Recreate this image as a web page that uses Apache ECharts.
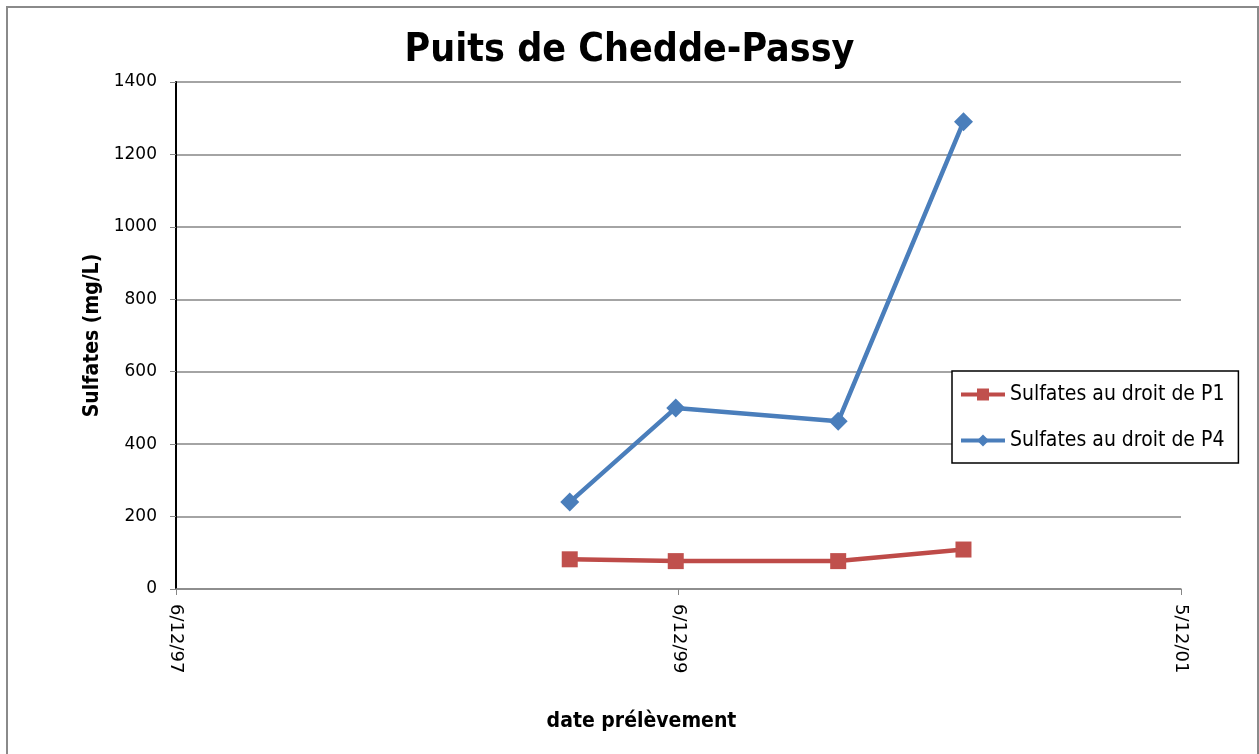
<!DOCTYPE html>
<html>
<head>
<meta charset="utf-8">
<script src="https://cdn.jsdelivr.net/npm/echarts@6/dist/echarts.min.js"></script>
<style>
  html, body { margin: 0; padding: 0; background: #fff; }
  #chart { width: 1259px; height: 754px; }
</style>
</head>
<body>
<div id="chart"></div>
<script>
// Sulfates aux puits de Chedde-Passy
const dates = ['1999-07-01', '1999-12-02', '2000-07-25', '2001-01-23'];
const sulfatesP1 = [82, 77, 77, 109];
const sulfatesP4 = [240, 500, 463, 1290];
const seriesNames = ['Sulfates au droit de P1', 'Sulfates au droit de P4'];
const xTicks = ['1997-12-06', '1999-12-06', '2001-12-05'];

// numéro de série Excel (jours depuis 1899-12-30)
function serial(d) {
  const t = Date.UTC(+d.slice(0, 4), +d.slice(5, 7) - 1, +d.slice(8, 10));
  return Math.round((t - Date.UTC(1899, 11, 30)) / 86400000);
}
function fmt(v) {
  const dt = new Date(Date.UTC(1899, 11, 30) + v * 86400000);
  return dt.getUTCDate() + '/' + (dt.getUTCMonth() + 1) + '/' + String(dt.getUTCFullYear()).slice(2);
}

const xMin = serial(xTicks[0]);
const xMax = serial(xTicks[xTicks.length - 1]);
const font = 'DejaVu Sans';
const fontCond = 'DejaVu Sans Condensed';

const chart = echarts.init(document.getElementById('chart'));
const option = {
  animation: false,
  backgroundColor: '#fff',
  title: {
    text: 'Puits de Chedde-Passy',
    left: 'center',
    top: 26,
    textStyle: { fontFamily: fontCond, fontWeight: 'bold', fontSize: 39, color: '#000' }
  },
  graphic: [{
    type: 'rect',
    shape: { x: 7, y: 7, width: 1251, height: 770 },
    style: { fill: 'none', stroke: '#8a8a8a', lineWidth: 2 },
    silent: true
  }],
  grid: { left: 176, right: 78, top: 82, bottom: 165 },
  legend: {
    orient: 'vertical',
    left: 952,
    top: 371,
    width: 286,
    padding: [13, 14, 12, 7],
    itemGap: 25,
    itemWidth: 44,
    itemHeight: 15,
    borderColor: '#000',
    borderWidth: 1.5,
    backgroundColor: '#fff',
    lineStyle: { width: 4 },
    textStyle: { fontFamily: fontCond, fontSize: 21, color: '#000' },
    data: seriesNames
  },
  xAxis: {
    type: 'value',
    min: xMin,
    max: xMax,
    interval: 730,
    name: 'date prélèvement',
    nameLocation: 'middle',
    nameGap: 122,
    nameTextStyle: { fontFamily: fontCond, fontWeight: 'bold', fontSize: 21, color: '#000', padding: [0, 74, 0, 0] },
    axisLine: { lineStyle: { color: '#868686', width: 1.5 } },
    axisTick: { show: true, length: 6, lineStyle: { color: '#868686' } },
    splitLine: { show: false },
    axisLabel: {
      rotate: -90,
      margin: 15,
      fontFamily: font,
      fontSize: 18,
      color: '#000',
      formatter: fmt
    }
  },
  yAxis: {
    type: 'value',
    min: 0,
    max: 1400,
    interval: 200,
    name: 'Sulfates (mg/L)',
    nameLocation: 'middle',
    nameGap: 72,
    nameTextStyle: { fontFamily: fontCond, fontWeight: 'bold', fontSize: 21, color: '#000' },
    axisLine: { show: true, lineStyle: { color: '#000', width: 2 } },
    axisTick: { show: true, length: 6, lineStyle: { color: '#868686' } },
    splitLine: { lineStyle: { color: '#868686', width: 1.5 } },
    axisLabel: { margin: 19, fontFamily: font, fontSize: 17, color: '#000', formatter: v => String(v) }
  },
  series: [
    {
      name: seriesNames[0],
      type: 'line',
      data: dates.map((d, i) => [serial(d), sulfatesP1[i]]),
      symbol: 'rect',
      symbolSize: 16,
      lineStyle: { color: '#be4b48', width: 4.5 },
      itemStyle: { color: '#c0504d' },
      z: 3
    },
    {
      name: seriesNames[1],
      type: 'line',
      data: dates.map((d, i) => [serial(d), sulfatesP4[i]]),
      symbol: 'diamond',
      symbolSize: 19,
      lineStyle: { color: '#4a7ebb', width: 4.5 },
      itemStyle: { color: '#4a7ebb' },
      z: 3
    }
  ]
};
chart.setOption(option);
</script>
</body>
</html>
